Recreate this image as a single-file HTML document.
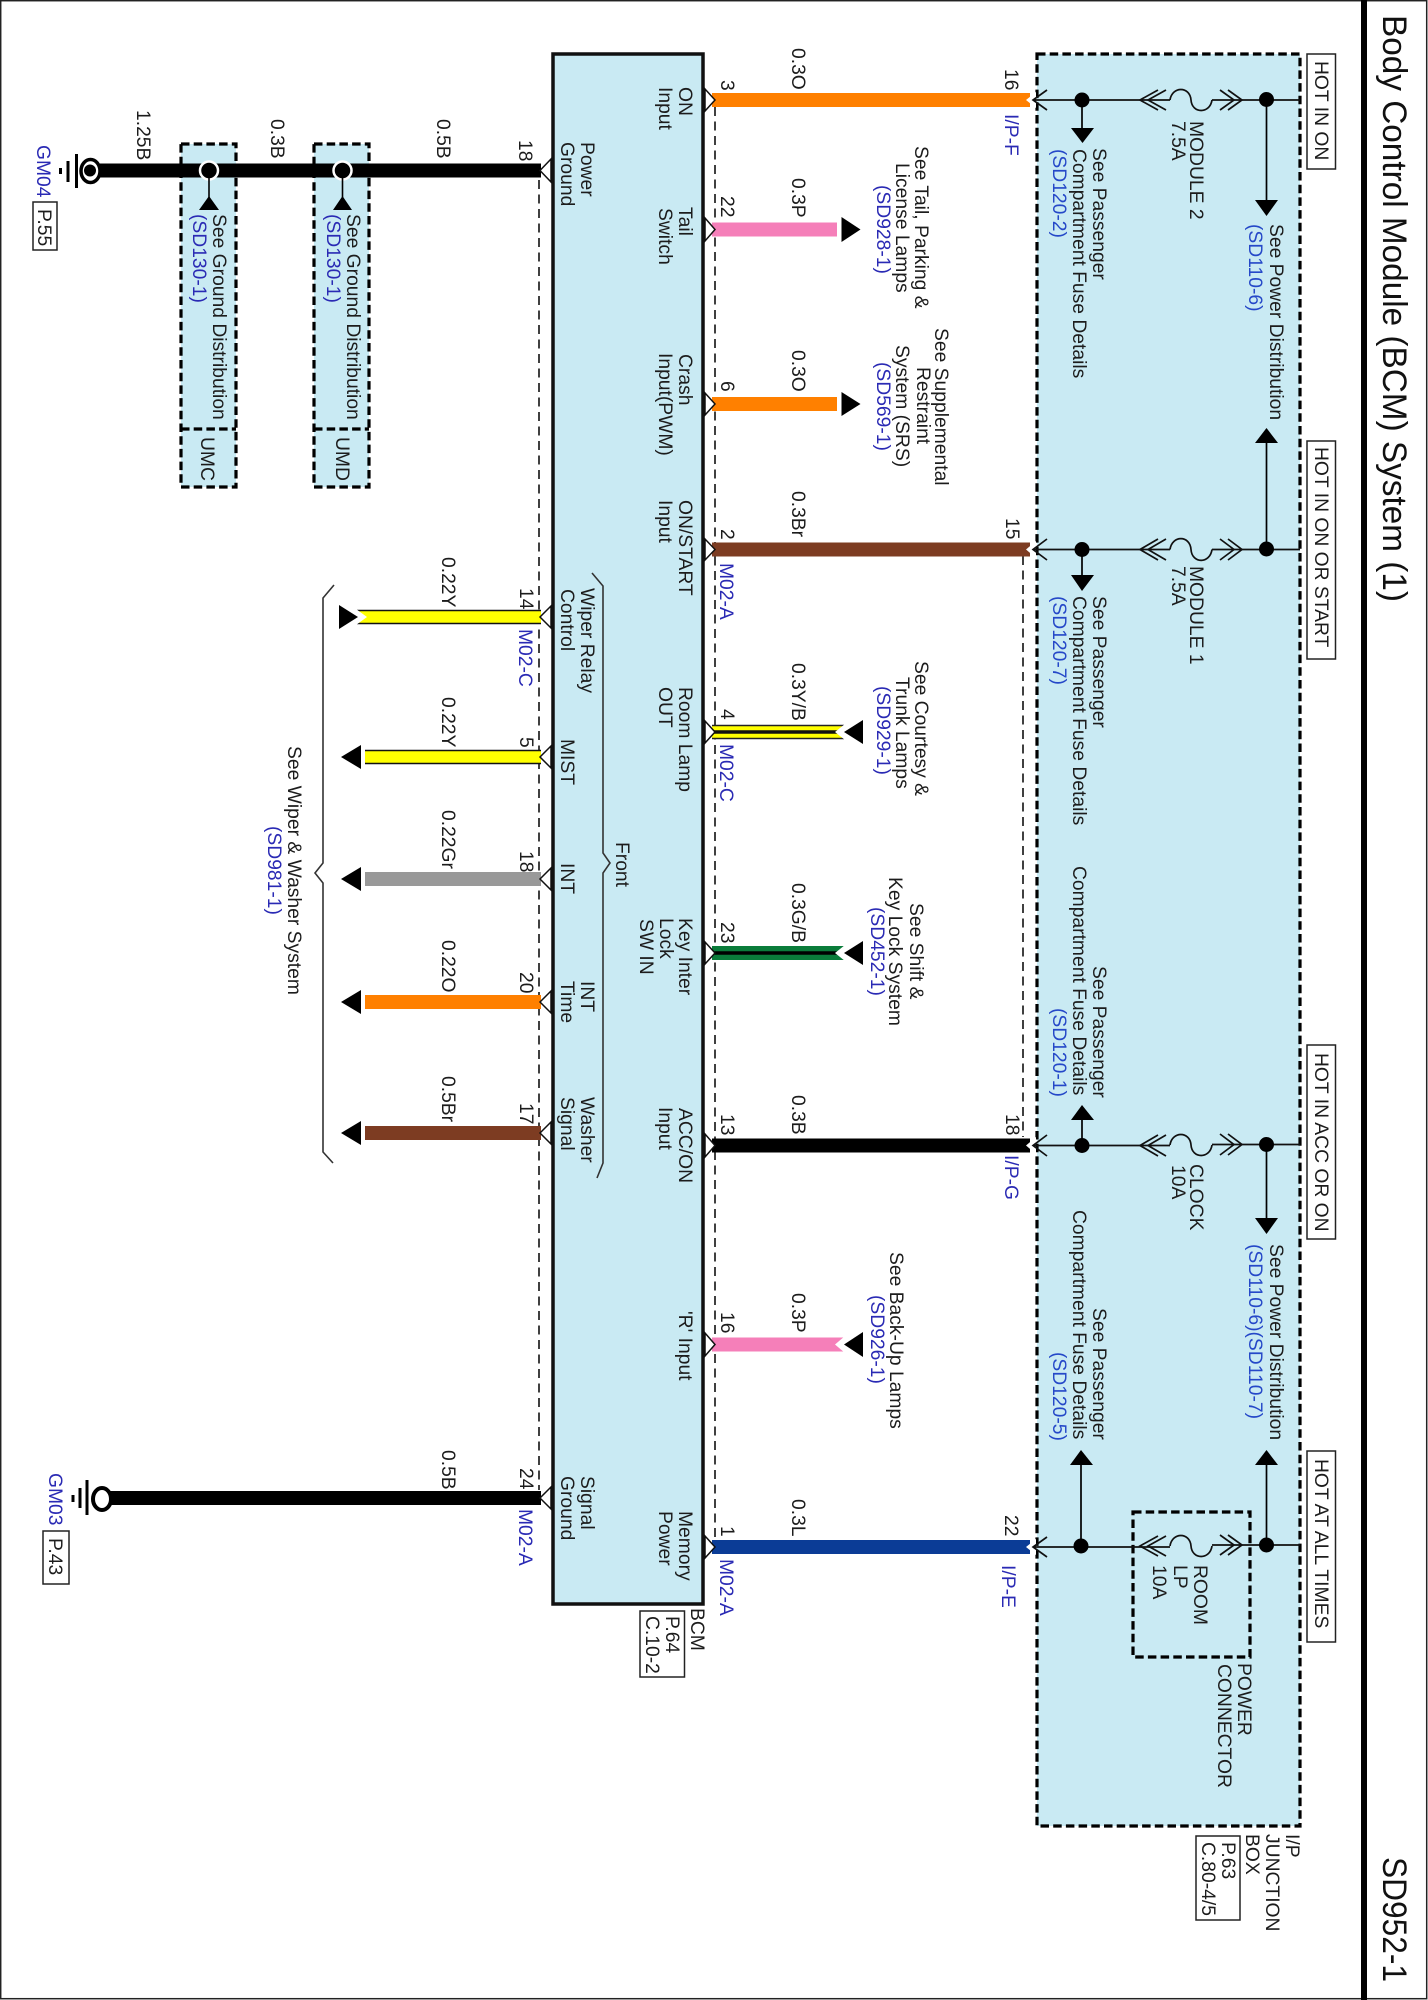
<!DOCTYPE html>
<html><head><meta charset="utf-8"><style>
html,body{margin:0;padding:0;background:#fff}
svg{display:block}
text{font-family:"Liberation Sans",sans-serif;font-size:19.3px;letter-spacing:0;fill:#1c1c1c}
text.b{fill:#2a2ab4}
text.c{fill:#2548c8}
text.t{font-size:34px;letter-spacing:0;fill:#111}
.w{stroke-width:14;fill:none}
.l{stroke:#000;stroke-width:1.7;fill:none}
.d{stroke:#000;stroke-width:3.2;stroke-dasharray:8.5 4.2;fill:none}
.n{stroke:#111;stroke-width:1.6;stroke-dasharray:9 5.5;fill:none}
.ch{fill:#fff;stroke:#111;stroke-width:1.5}
.f{stroke:#111;stroke-width:1.7;fill:none}
</style></head><body>
<svg width="1428" height="2000" viewBox="0 0 1428 2000" xmlns="http://www.w3.org/2000/svg">
<rect width="1428" height="2000" fill="#fff"/>
<rect x=".7" y=".7" width="1426" height="1998" fill="none" stroke="#222" stroke-width="1.5"/>
<rect x="1361" y="0" width="6" height="2000" fill="#000"/>

<!-- boxes -->
<rect x="553" y="54" width="150" height="1550" fill="#c9eaf3" stroke="#111" stroke-width="3.5"/>
<rect x="1037" y="54" width="263" height="1772" class="d" style="fill:#c9eaf3"/>
<rect x="181" y="144" width="55" height="343" style="fill:#c9eaf3" class="d"/>
<rect x="314" y="144" width="55" height="343" style="fill:#c9eaf3" class="d"/>
<path class="d" d="M181,429H236M314,429H369"/>
<rect x="1133" y="1512" width="117" height="145" class="d"/>

<!-- thin dashed -->
<path class="n" d="M539,180V1490M715,107V1542M1023,556V1137"/>

<!-- braces -->
<path d="M592,573L603,586V853L610,863L603,873V1163L597,1178" fill="none" stroke="#333" stroke-width="1.6"/>
<path d="M334,585L323,598V863L315,873L323,883V1152L333,1163" fill="none" stroke="#333" stroke-width="1.6"/>

<!-- wires -->
<path class="w" stroke="#ff8000" d="M712,100H1030"/>
<path class="w" stroke="#f57fb9" d="M712,229.5H837"/>
<path class="w" stroke="#ff8000" d="M712,404H837"/>
<path class="w" stroke="#7d3c22" d="M712,549.5H1030"/>
<path class="w" stroke="#000" d="M712,1145.5H1030"/>
<path class="w" stroke="#0b3c96" d="M712,1547H1030"/>
<path class="w" stroke="#f57fb9" d="M712,1344.5H844"/>
<path class="w" stroke="#ff0" d="M712,732H844"/>
<path d="M712,725.5H844M712,738.5H844" stroke="#222" stroke-width="1.4"/>
<path d="M712,732H844" stroke="#111" stroke-width="3.5"/>
<path class="w" stroke="#0a7c3a" d="M712,953H844"/>
<path d="M712,953H844" stroke="#000" stroke-width="3.5"/>

<path class="w" stroke="#000" d="M100,170.5H541"/>
<path class="w" stroke="#000" d="M110,1498H541"/>
<path class="w" stroke="#ff0" d="M357,617H541"/>
<path d="M357,610.5H541M357,623.5H541" stroke="#111" stroke-width="1.6"/>
<path class="w" stroke="#ff0" d="M365,757H541"/>
<path d="M365,750.5H541M365,763.5H541" stroke="#111" stroke-width="1.6"/>
<path class="w" stroke="#999" d="M365,879H541"/>
<path class="w" stroke="#ff8000" d="M365,1002H541"/>
<path class="w" stroke="#7d3c22" d="M365,1133H541"/>

<!-- notches -->
<g fill="#fff">
<path d="M356,609L367,617L356,625Z"/>
<path d="M845,724L835,732L845,740Z"/>
<path d="M845,945L835,953L845,961Z"/>
<path d="M845,1336L835,1344.5L845,1353Z"/>
</g>

<!-- arrowheads on wires -->
<g fill="#000">
<path d="M841.5,217L860.5,229.5L841.5,242Z"/>
<path d="M841.5,392L860.5,404L841.5,416Z"/>
<path d="M339,605L358,617L339,629Z"/>
<path d="M361,745L341,757L361,769Z"/>
<path d="M361,867L341,879L361,891Z"/>
<path d="M361,990L341,1002L361,1014Z"/>
<path d="M361,1121L341,1133L361,1145Z"/>
<path d="M863,720L844,732L863,744Z"/>
<path d="M863,941L844,953L863,965Z"/>
<path d="M863,1332L844,1344.5L863,1357Z"/>
</g>

<!-- BCM side connectors -->
<g class="ch">
<path d="M705,89L715,100L705,111Z"/>
<path d="M705,218L715,229.5L705,241Z"/>
<path d="M705,393L715,404L705,415Z"/>
<path d="M705,539L715,549.5L705,560Z"/>
<path d="M705,721L715,732L705,743Z"/>
<path d="M705,942L715,953L705,964Z"/>
<path d="M705,1134L715,1145.5L705,1157Z"/>
<path d="M705,1333L715,1344.5L705,1356Z"/>
<path d="M705,1536L715,1547L705,1558Z"/>
<path d="M551,159L540,170.5L551,182Z"/>
<path d="M551,606L540,617L551,628Z"/>
<path d="M551,746L540,757L551,768Z"/>
<path d="M551,868L540,879L551,890Z"/>
<path d="M551,991L540,1002L551,1013Z"/>
<path d="M551,1122L540,1133L551,1144Z"/>
<path d="M551,1487L540,1498L551,1509Z"/>
</g>

<!-- junction box rows -->
<g>
<path d="M1026,100L1036,92V108Z" fill="#fff"/>
<path class="f" d="M1047,90L1033,100L1047,110M1033,100H1170M1212,100H1300"/>
<path class="f" d="M1158,90L1140,100L1158,110M1166,90L1148,100L1166,110M1220,90L1234,100L1220,110M1228,90L1242,100L1228,110"/>
<path class="f" d="M1170,100C1172,86 1190,86 1191,100C1192,114 1210,114 1212,100"/>
<path d="M1026,549.5L1036,541V558Z" fill="#fff"/>
<path class="f" d="M1047,539L1033,549.5L1047,560M1033,549.5H1170M1212,549.5H1300"/>
<path class="f" d="M1158,539L1140,549.5L1158,560M1166,539L1148,549.5L1166,560M1220,539L1234,549.5L1220,560M1228,539L1242,549.5L1228,560"/>
<path class="f" d="M1170,549.5C1172,535 1190,535 1191,549.5C1192,564 1210,564 1212,549.5"/>
<path d="M1026,1145.5L1036,1137V1154Z" fill="#fff"/>
<path class="f" d="M1047,1135L1033,1145.5L1047,1156M1033,1145.5H1170M1212,1144.5H1300"/>
<path class="f" d="M1158,1135L1140,1145.5L1158,1156M1166,1135L1148,1145.5L1166,1156M1220,1134L1234,1144.5L1220,1155M1228,1134L1242,1144.5L1228,1155"/>
<path class="f" d="M1170,1145C1172,1131 1190,1131 1191,1145C1192,1159 1210,1159 1212,1145"/>
<path d="M1026,1547L1036,1539V1555Z" fill="#fff"/>
<path class="f" d="M1047,1537L1033,1547L1047,1557M1033,1547H1170M1212,1545H1300"/>
<path class="f" d="M1158,1536L1140,1546L1158,1556M1166,1536L1148,1546L1166,1556M1220,1535L1234,1545L1220,1555M1228,1535L1242,1545L1228,1555"/>
<path class="f" d="M1170,1546C1172,1532 1190,1532 1191,1546C1192,1560 1210,1560 1212,1546"/>
</g>
<path class="l" d="M1082,100V130M1266.5,100V202M1266.5,441V549M1082,549V577M1082,1145V1118M1266.5,1144V1220M1081,1546V1463M1266.5,1545V1463"/>
<g fill="#000">
<circle cx="1082" cy="100" r="7.5"/><circle cx="1266.5" cy="99.5" r="7.5"/>
<circle cx="1082" cy="549.5" r="7.5"/><circle cx="1266.5" cy="549" r="7.5"/>
<circle cx="1082" cy="1145.5" r="7.5"/><circle cx="1266.5" cy="1144.5" r="7.5"/>
<circle cx="1081" cy="1546" r="7.5"/><circle cx="1266.5" cy="1545" r="7.5"/>
<path d="M1071,128H1094L1082.5,143Z"/>
<path d="M1255,200H1278L1266.5,216Z"/>
<path d="M1255,443H1278L1266.5,428Z"/>
<path d="M1071,575H1094L1082,591Z"/>
<path d="M1071,1120H1094L1082,1105Z"/>
<path d="M1255,1218H1278L1266.5,1234Z"/>
<path d="M1070,1465H1093L1081,1450Z"/>
<path d="M1255,1465H1278L1266.5,1450Z"/>
</g>

<!-- ground bus dots -->
<g>
<ellipse cx="209" cy="170.5" rx="9" ry="9" fill="#000" stroke="#fff" stroke-width="2.5"/>
<ellipse cx="342.5" cy="170.5" rx="9" ry="9" fill="#000" stroke="#fff" stroke-width="2.5"/>
<path d="M209,178V198M342.5,178V198" stroke="#000" stroke-width="1.6"/>
<path d="M199,210H219L209,196ZM333,210H352L342.5,196Z" fill="#000"/>
</g>

<!-- ground symbols -->
<ellipse cx="90.5" cy="171" rx="9.5" ry="11.5" fill="#fff" stroke="#000" stroke-width="3.5"/>
<circle cx="90" cy="170.5" r="6" fill="#000"/>
<path d="M76.5,154V188M68,161V182M60.5,168V174" stroke="#000" stroke-width="3"/>
<ellipse cx="102" cy="1499" rx="9" ry="11" fill="#fff" stroke="#000" stroke-width="4"/>
<path d="M87,1480V1515M80,1488V1508M73,1495V1502" stroke="#000" stroke-width="3"/>

<!-- label boxes -->
<g fill="#fff" stroke="#222" stroke-width="1.5">
<rect x="1307" y="54" width="28.5" height="115"/>
<rect x="1307" y="441" width="28.5" height="218"/>
<rect x="1307" y="1045" width="28.5" height="194"/>
<rect x="1307" y="1451" width="28.5" height="191"/>
<rect x="33" y="202" width="24" height="48"/>
<rect x="43" y="1531" width="26" height="53"/>
<rect x="640" y="1611" width="44.5" height="66"/>
<rect x="1196" y="1836" width="44" height="84"/>
</g>

<!-- title -->
<text class="t" transform="translate(1383,15) rotate(90)" textLength="587" lengthAdjust="spacingAndGlyphs">Body Control Module (BCM) System (1)</text>
<text class="t" transform="translate(1383,1857) rotate(90)" textLength="125" lengthAdjust="spacingAndGlyphs">SD952-1</text>

<!-- HOT labels -->
<text transform="translate(1315,61) rotate(90)">HOT IN ON</text>
<text transform="translate(1315,447) rotate(90)">HOT IN ON OR START</text>
<text transform="translate(1315,1053) rotate(90)">HOT IN ACC OR ON</text>
<text transform="translate(1315,1459) rotate(90)">HOT AT ALL TIMES</text>

<!-- Junction labels -->
<text transform="translate(1093,148) rotate(90)">See Passenger</text>
<text transform="translate(1073,149) rotate(90)">Compartment Fuse Details</text>
<text class="c" transform="translate(1053,149) rotate(90)">(SD120-2)</text>
<text transform="translate(1093,596) rotate(90)">See Passenger</text>
<text transform="translate(1073,596) rotate(90)">Compartment Fuse Details</text>
<text class="c" transform="translate(1053,596) rotate(90)">(SD120-7)</text>
<text transform="translate(1093,966) rotate(90)">See Passenger</text>
<text transform="translate(1073,866) rotate(90)">Compartment Fuse Details</text>
<text class="c" transform="translate(1053,1008) rotate(90)">(SD120-1)</text>
<text transform="translate(1093,1308) rotate(90)">See Passenger</text>
<text transform="translate(1073,1210) rotate(90)">Compartment Fuse Details</text>
<text class="c" transform="translate(1053,1352) rotate(90)">(SD120-5)</text>
<text transform="translate(1270,224) rotate(90)">See Power Distribution</text>
<text class="c" transform="translate(1249,224) rotate(90)">(SD110-6)</text>
<text transform="translate(1270,1244) rotate(90)">See Power Distribution</text>
<text class="c" transform="translate(1249,1244) rotate(90)">(SD110-6)(SD110-7)</text>
<text transform="translate(1190,121) rotate(90)">MODULE 2</text>
<text transform="translate(1172,121) rotate(90)">7.5A</text>
<text transform="translate(1190,566) rotate(90)">MODULE 1</text>
<text transform="translate(1172,566) rotate(90)">7.5A</text>
<text transform="translate(1190,1164) rotate(90)">CLOCK</text>
<text transform="translate(1172,1165) rotate(90)">10A</text>
<text transform="translate(1194,1565) rotate(90)">ROOM</text>
<text transform="translate(1174,1565) rotate(90)">LP</text>
<text transform="translate(1153,1565) rotate(90)">10A</text>
<text transform="translate(1238,1663) rotate(90)">POWER</text>
<text transform="translate(1218,1664) rotate(90)">CONNECTOR</text>
<text transform="translate(1286,1834) rotate(90)">I/P</text>
<text transform="translate(1266,1834) rotate(90)">JUNCTION</text>
<text transform="translate(1246,1834) rotate(90)">BOX</text>
<text transform="translate(1222,1842) rotate(90)">P.63</text>
<text transform="translate(1202,1842) rotate(90)">C.80-4/5</text>

<!-- BCM labels -->
<text transform="translate(679,87) rotate(90)">ON</text>
<text transform="translate(659,87) rotate(90)">Input</text>
<text transform="translate(679,207) rotate(90)">Tail</text>
<text transform="translate(659,208) rotate(90)">Switch</text>
<text transform="translate(679,354) rotate(90)">Crash</text>
<text transform="translate(659,353) rotate(90)">Input(PWM)</text>
<text transform="translate(679,500) rotate(90)">ON/START</text>
<text transform="translate(659,500) rotate(90)">Input</text>
<text transform="translate(679,687) rotate(90)">Room Lamp</text>
<text transform="translate(659,687) rotate(90)">OUT</text>
<text transform="translate(679,918) rotate(90)">Key Inter</text>
<text transform="translate(660,918) rotate(90)">Lock</text>
<text transform="translate(640,919) rotate(90)">SW IN</text>
<text transform="translate(679,1108) rotate(90)">ACC/ON</text>
<text transform="translate(659,1107) rotate(90)">Input</text>
<text transform="translate(679,1311) rotate(90)">'R' Input</text>
<text transform="translate(679,1511) rotate(90)">Memory</text>
<text transform="translate(659,1511) rotate(90)">Power</text>
<text transform="translate(581,142) rotate(90)">Power</text>
<text transform="translate(561,142) rotate(90)">Ground</text>
<text transform="translate(581,588) rotate(90)">Wiper Relay</text>
<text transform="translate(561,589) rotate(90)">Control</text>
<text transform="translate(561,739) rotate(90)">MIST</text>
<text transform="translate(561,863) rotate(90)">INT</text>
<text transform="translate(581,981) rotate(90)">INT</text>
<text transform="translate(561,981) rotate(90)">Time</text>
<text transform="translate(581,1097) rotate(90)">Washer</text>
<text transform="translate(561,1097) rotate(90)">Signal</text>
<text transform="translate(616,842) rotate(90)">Front</text>
<text transform="translate(581,1476) rotate(90)">Signal</text>
<text transform="translate(561,1476) rotate(90)">Ground</text>
<text transform="translate(691,1608) rotate(90)">BCM</text>
<text transform="translate(666,1616) rotate(90)">P.64</text>
<text transform="translate(646,1616) rotate(90)">C.10-2</text>

<!-- wire sizes right -->
<text transform="translate(792,48) rotate(90)">0.3O</text>
<text transform="translate(792,178) rotate(90)">0.3P</text>
<text transform="translate(792,350) rotate(90)">0.3O</text>
<text transform="translate(792,491) rotate(90)">0.3Br</text>
<text transform="translate(792,663) rotate(90)">0.3Y/B</text>
<text transform="translate(792,883) rotate(90)">0.3G/B</text>
<text transform="translate(792,1095) rotate(90)">0.3B</text>
<text transform="translate(792,1293) rotate(90)">0.3P</text>
<text transform="translate(792,1499) rotate(90)">0.3L</text>
<!-- pins right -->
<text transform="translate(721,80) rotate(90)">3</text>
<text transform="translate(721,196) rotate(90)">22</text>
<text transform="translate(721,381) rotate(90)">6</text>
<text transform="translate(721,529) rotate(90)">2</text>
<text transform="translate(721,709) rotate(90)">4</text>
<text transform="translate(721,922) rotate(90)">23</text>
<text transform="translate(721,1114) rotate(90)">13</text>
<text transform="translate(721,1312) rotate(90)">16</text>
<text transform="translate(721,1526) rotate(90)">1</text>
<text class="b" transform="translate(720,563) rotate(90)">M02-A</text>
<text class="b" transform="translate(720,744) rotate(90)">M02-C</text>
<text class="b" transform="translate(720,1559) rotate(90)">M02-A</text>
<!-- pins at junction -->
<text transform="translate(1005,69) rotate(90)">16</text>
<text transform="translate(1006,518) rotate(90)">15</text>
<text transform="translate(1006,1114) rotate(90)">18</text>
<text transform="translate(1005,1515) rotate(90)">22</text>
<text class="b" transform="translate(1005,114) rotate(90)">I/P-F</text>
<text class="b" transform="translate(1005,1155) rotate(90)">I/P-G</text>
<text class="b" transform="translate(1002,1565) rotate(90)">I/P-E</text>

<!-- side notes -->
<text transform="translate(915,146) rotate(90)">See Tail, Parking &amp;</text>
<text transform="translate(896,163) rotate(90)">License Lamps</text>
<text class="b" transform="translate(877,185) rotate(90)">(SD928-1)</text>
<text transform="translate(935,328) rotate(90)">See Supplemental</text>
<text transform="translate(917,367) rotate(90)">Restraint</text>
<text transform="translate(896,345) rotate(90)">System (SRS)</text>
<text class="b" transform="translate(877,362) rotate(90)">(SD569-1)</text>
<text transform="translate(915,661) rotate(90)">See Courtesy &amp;</text>
<text transform="translate(896,677) rotate(90)">Trunk Lamps</text>
<text class="b" transform="translate(877,686) rotate(90)">(SD929-1)</text>
<text transform="translate(910,903) rotate(90)">See Shift &amp;</text>
<text transform="translate(889,877) rotate(90)">Key Lock System</text>
<text class="b" transform="translate(871,907) rotate(90)">(SD452-1)</text>
<text transform="translate(890,1252) rotate(90)">See Back-Up Lamps</text>
<text class="b" transform="translate(871,1295) rotate(90)">(SD926-1)</text>

<!-- left side labels -->
<text transform="translate(137,110) rotate(90)">1.25B</text>
<text transform="translate(271,119) rotate(90)">0.3B</text>
<text transform="translate(437,119) rotate(90)">0.5B</text>
<text transform="translate(519,140) rotate(90)">18</text>
<text transform="translate(442,557) rotate(90)">0.22Y</text>
<text transform="translate(442,697) rotate(90)">0.22Y</text>
<text transform="translate(442,810) rotate(90)">0.22Gr</text>
<text transform="translate(442,940) rotate(90)">0.22O</text>
<text transform="translate(442,1076) rotate(90)">0.5Br</text>
<text transform="translate(442,1450) rotate(90)">0.5B</text>
<text transform="translate(520,588) rotate(90)">14</text>
<text transform="translate(520,737) rotate(90)">5</text>
<text transform="translate(520,851) rotate(90)">18</text>
<text transform="translate(520,972) rotate(90)">20</text>
<text transform="translate(520,1103) rotate(90)">17</text>
<text transform="translate(520,1468) rotate(90)">24</text>
<text class="b" transform="translate(519,629) rotate(90)">M02-C</text>
<text class="b" transform="translate(519,1509) rotate(90)">M02-A</text>

<text transform="translate(288,746) rotate(90)">See Wiper &amp; Washer System</text>
<text class="b" transform="translate(268,826) rotate(90)">(SD981-1)</text>

<text transform="translate(213,214) rotate(90)">See Ground Distribution</text>
<text class="b" transform="translate(193,214) rotate(90)">(SD130-1)</text>
<text transform="translate(347,214) rotate(90)">See Ground Distribution</text>
<text class="b" transform="translate(327,214) rotate(90)">(SD130-1)</text>
<text transform="translate(201,437) rotate(90)">UMC</text>
<text transform="translate(336,437) rotate(90)">UMD</text>

<text class="b" transform="translate(37,145) rotate(90)">GM04</text>
<text transform="translate(38,209) rotate(90)">P.55</text>
<text class="b" transform="translate(49,1473) rotate(90)">GM03</text>
<text transform="translate(49,1538) rotate(90)">P.43</text>
</svg>
</body></html>
